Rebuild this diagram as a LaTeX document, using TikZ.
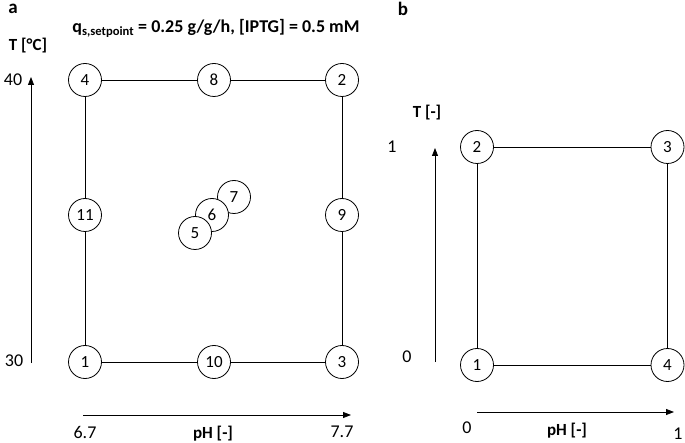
\documentclass[tikz,border=0pt]{standalone}
\usepackage{fontspec}
\setmainfont{Carlito}
\usetikzlibrary{arrows.meta}
\begin{document}
\begin{tikzpicture}[x=1pt,y=-1pt,
  pt/.style={draw,circle,minimum size=33pt,inner sep=0pt,font=\fontsize{17}{17}\selectfont,fill=white,line width=0.8pt},
  lbl/.style={font=\fontsize{18}{18}\selectfont,inner sep=0pt},
  blbl/.style={font=\fontsize{17}{17}\selectfont\bfseries,inner sep=0pt},
  axis/.style={line width=0.8pt,-{Triangle[length=8pt,width=6pt]}},
  edge/.style={line width=0.8pt}]
\useasboundingbox (0,0) rectangle (685,443);
% panel a
\node[blbl,font=\fontsize{19}{19}\selectfont\bfseries] (la) at (13,9) {a};
\node[blbl,font=\fontsize{18}{18}\selectfont\bfseries] (title) at (216,28) {q\textsubscript{s,setpoint} = 0.25 g/g/h, [IPTG] = 0.5 mM};
\node[blbl] (Ta) at (28,46) {T [°C]};
\node[lbl] (t40) at (13,80) {40};
\node[lbl] (t30) at (14,361) {30};
\coordinate (ya0) at (31,363);
\coordinate (ya1) at (31,77);
\draw[axis] (ya0) -- (ya1);
\coordinate (xa0) at (83,415);
\coordinate (xa1) at (351,415);
\draw[axis] (xa0) -- (xa1);
\node[lbl] (p67) at (85,432) {6.7};
\node[blbl] (pHa) at (213,434) {pH [-]};
\node[lbl] (p77) at (342,432) {7.7};

\node[pt] (a4) at (85,80) {4};
\node[pt] (a8) at (214,80) {8};
\node[pt] (a2) at (342,80) {2};
\node[pt] (a11) at (85,215) {11};
\node[pt] (a9) at (342,215) {9};
\node[pt] (a1) at (85,362) {1};
\node[pt] (a10) at (214,362) {10};
\node[pt] (a3) at (342,362) {3};
\draw[edge] (a4) -- (a8) -- (a2) -- (a9) -- (a3) -- (a10) -- (a1) -- (a11) -- (a4);
\node[pt] (a7) at (234,197) {7};
\node[pt] (a6) at (212,215) {6};
\node[pt] (a5) at (195,233) {5};

% panel b
\node[blbl,font=\fontsize{19}{19}\selectfont\bfseries] (lb) at (403,9) {b};
\node[blbl] (Tb) at (427,113) {T [-]};
\node[lbl] (b1) at (392,147) {1};
\node[lbl] (b0) at (407,357) {0};
\coordinate (yb0) at (435,362);
\coordinate (yb1) at (435,148);
\draw[axis] (yb0) -- (yb1);
\coordinate (xb0) at (477,412);
\coordinate (xb1) at (674,412);
\draw[axis] (xb0) -- (xb1);
\node[lbl] (bx0) at (467,428) {0};
\node[blbl] (pHb) at (567,431) {pH [-]};
\node[lbl] (bx1) at (678,434) {1};

\node[pt] (b2) at (477,147) {2};
\node[pt] (b3) at (667.5,147) {3};
\node[pt] (b1n) at (477,365) {1};
\node[pt] (b4) at (667.5,365) {4};
\draw[edge] (b2) -- (b3) -- (b4) -- (b1n) -- (b2);
\end{tikzpicture}
\end{document}
